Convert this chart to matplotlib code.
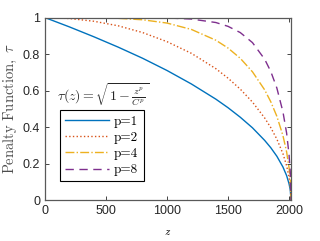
import numpy as np
import matplotlib
matplotlib.use('Agg')
import matplotlib.pyplot as plt

plt.rcParams['mathtext.fontset'] = 'cm'
plt.rcParams['font.family'] = ['Liberation Sans', 'DejaVu Sans']
plt.rcParams['axes.unicode_minus'] = False

# values
z = [0, 200, 400, 600, 800, 1000, 1200, 1400, 1500, 1600, 1700, 1800,
     1850, 1900, 1950, 1980, 2000, 2010, 2016]
tau_p1 = [1.0, 0.949, 0.895, 0.838, 0.777, 0.710, 0.636, 0.553, 0.506, 0.454,
          0.396, 0.327, 0.287, 0.240, 0.181, 0.134, 0.089, 0.055, 0.0]
tau_p2 = [1.0, 0.995, 0.980, 0.955, 0.918, 0.868, 0.804, 0.720, 0.668, 0.608,
          0.537, 0.450, 0.397, 0.334, 0.254, 0.188, 0.126, 0.077, 0.0]
tau_p4 = [1.0, 1.0, 0.999, 0.996, 0.988, 0.970, 0.935, 0.876, 0.833, 0.777,
          0.703, 0.604, 0.539, 0.459, 0.353, 0.264, 0.177, 0.109, 0.0]
tau_p8 = [1.0, 1.0, 1.0, 1.0, 1.0, 0.998, 0.992, 0.973, 0.952, 0.918,
          0.863, 0.772, 0.705, 0.614, 0.483, 0.367, 0.248, 0.153, 0.0]
labels = ['p=1', 'p=2', 'p=4', 'p=8']
xticks = [0, 500, 1000, 1500, 2000]
yticks = [0, 0.2, 0.4, 0.6, 0.8, 1]

fig = plt.figure(figsize=(3.2, 2.41), dpi=100)
ax = fig.add_axes([0.1406, 0.170, 0.7688, 0.757])

ax.plot(z, tau_p1, '-', color='#0072BD', lw=1.0, label=labels[0])
ax.plot(z, tau_p2, ':', color='#D95319', lw=1.0, label=labels[1])
ax.plot(z, tau_p4, '-.', color='#EDB120', lw=1.0, label=labels[2])
ax.plot(z, tau_p8, '--', color='#7E2F8E', lw=1.0, dashes=(6, 4), label=labels[3])

ax.set_xlim(0, 2016)
ax.set_ylim(0, 1)
ax.set_xticks(xticks)
ax.set_yticks(yticks)
ax.set_yticklabels(['0', '0.2', '0.4', '0.6', '0.8', '1'])
ax.tick_params(direction='in', length=3, width=0.6, labelsize=9, pad=3.5,
               top=True, right=True, colors='0.15')
for s in ax.spines.values():
    s.set_color('0.35')
    s.set_linewidth(0.9)

ax.set_xlabel(r'$z$', fontsize=8, labelpad=7)
ax.set_ylabel(r'$\mathrm{Penalty\ Function,}\ \tau$', fontsize=10.5, labelpad=3,
              color='0.3')

ax.text(95, 0.58, r'$\tau(z) = \sqrt{1-\frac{z^p}{C^p}}$', fontsize=10,
        va='center', ha='left', color='0.15')

leg = ax.legend(loc='upper left', bbox_to_anchor=(0.061, 0.493),
                prop={'family': 'cmr10', 'size': 9.5},
                fancybox=False, edgecolor='k', framealpha=1, handlelength=3.3,
                borderaxespad=0, borderpad=0.4, labelspacing=0.3, handletextpad=0.4)
leg.get_frame().set_linewidth(0.8)

fig.savefig('out.png', dpi=100)
